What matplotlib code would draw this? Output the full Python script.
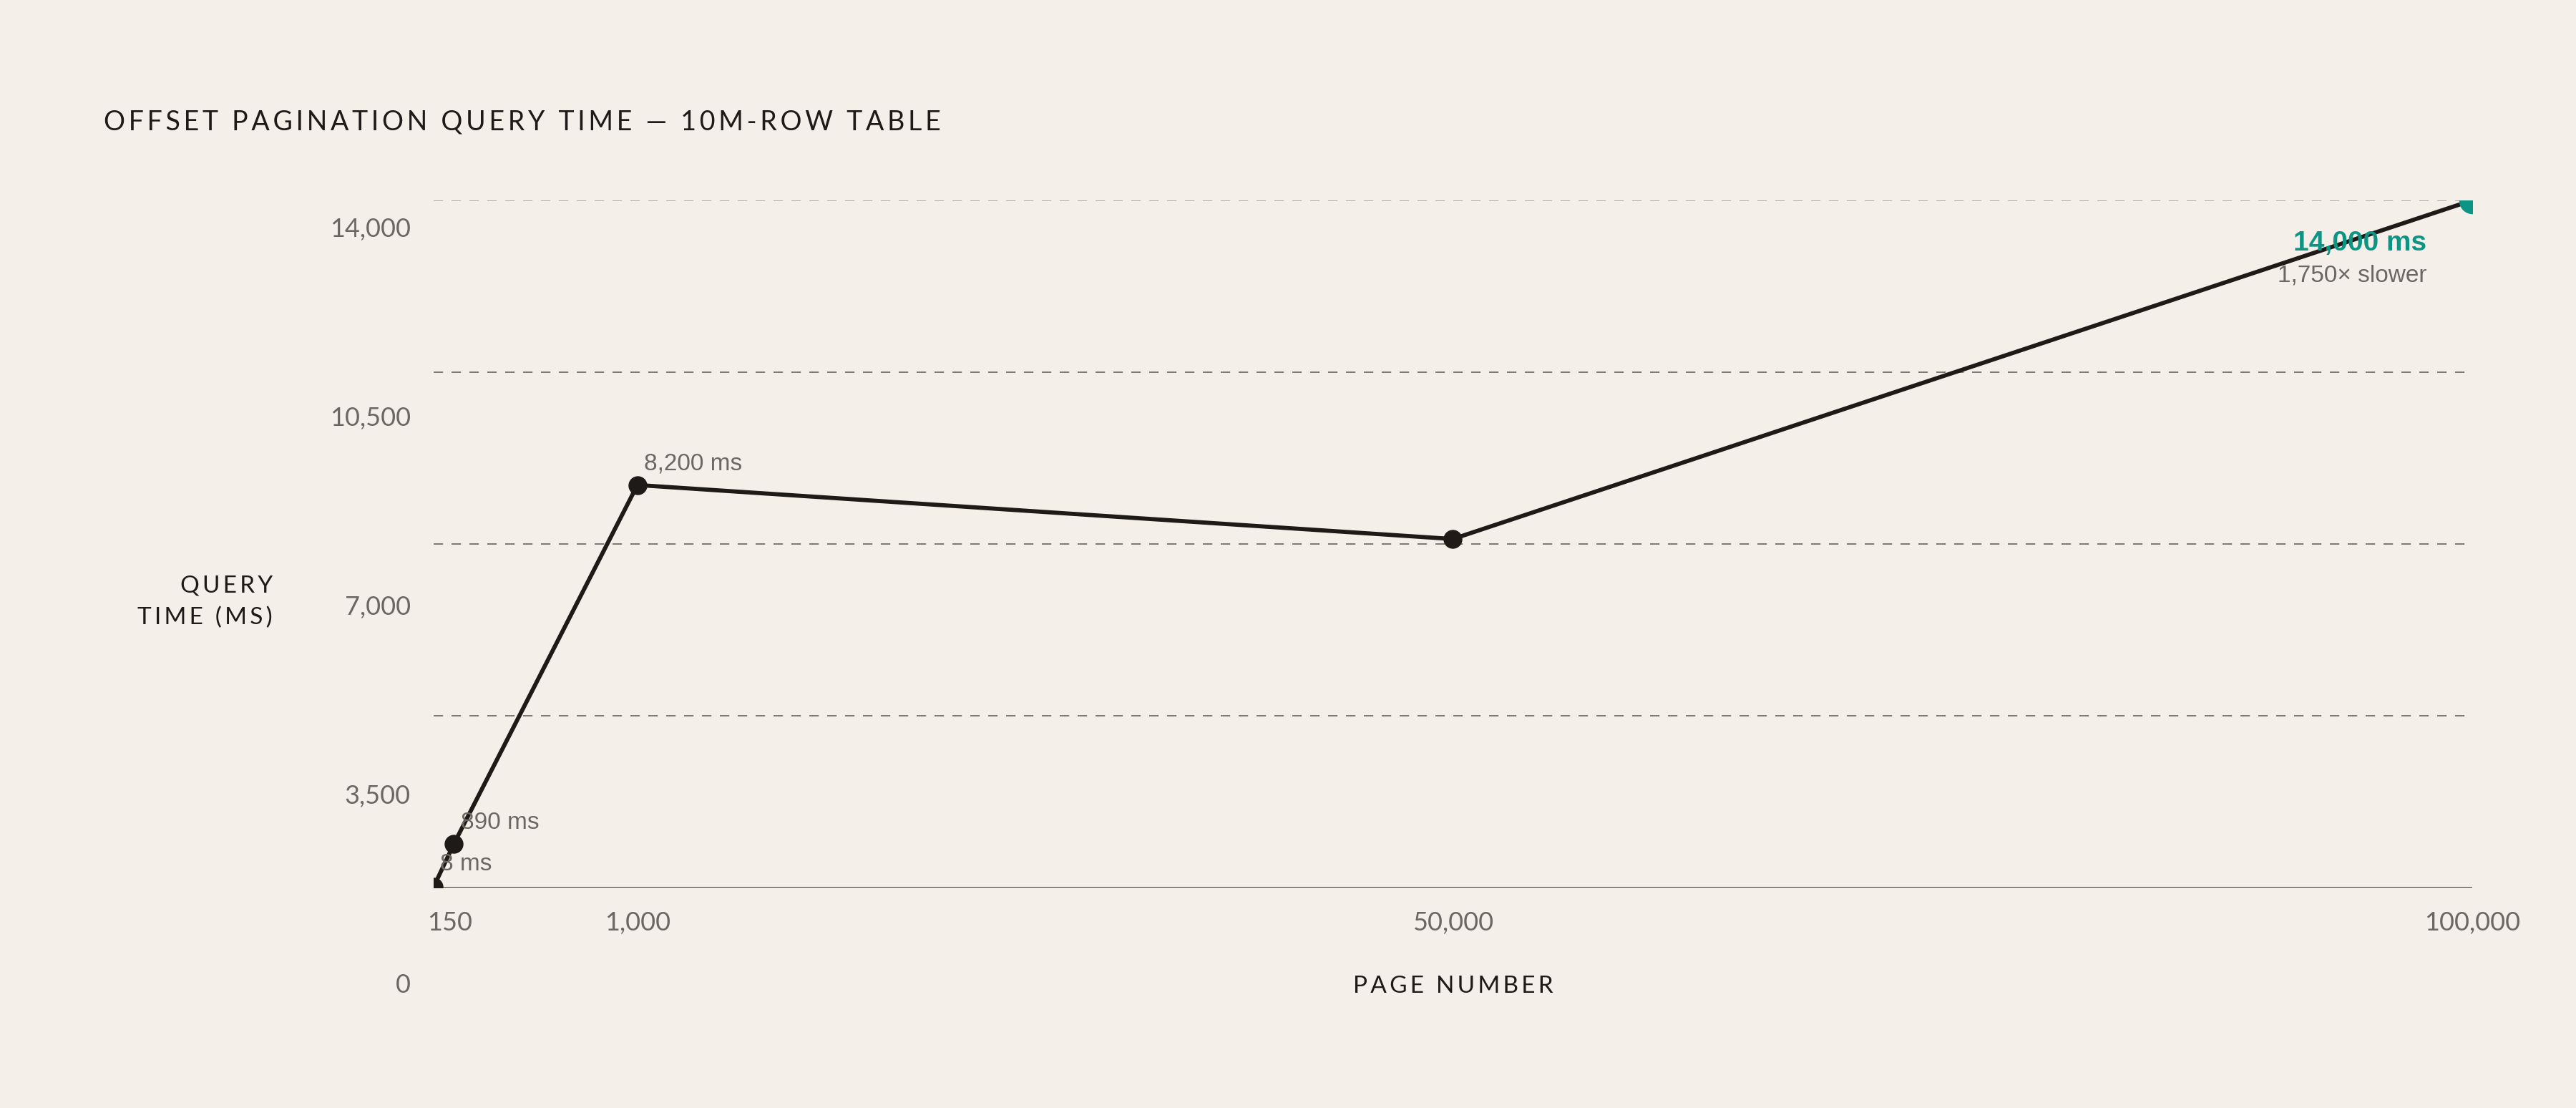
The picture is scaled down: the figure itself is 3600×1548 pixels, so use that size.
import matplotlib
matplotlib.use("Agg")
import matplotlib.pyplot as plt

# data
pages = [1, 1000, 10000, 50000, 100000]
query_ms = [8, 890, 8200, 7100, 14000]
point_labels = ["8 ms", "890 ms", "8,200 ms", None, None]

x_tick_pos = [800, 10000, 50000, 100000]
x_tick_labels = ["150", "1,000", "50,000", "100,000"]
y_ticks = [0, 3500, 7000, 10500, 14000]

BG = "#f4f0e9"
INK = "#1d1a17"
GREY = "#6b6762"
TEAL = "#0e9484"
FAM = ["Lato", "DejaVu Sans"]

plt.rcParams["lines.scale_dashes"] = False


def spaced(s, n=2):
    # crude letter spacing with hair spaces
    return ("\u200a" * n).join(s)


fig = plt.figure(figsize=(36, 15.48), dpi=100, facecolor=BG)

ax = fig.add_axes([0.1683, 0.199, 0.7914, 0.6202])
ax.set_facecolor(BG)
ax.set_xlim(pages[0], pages[-1])
ax.set_ylim(0, y_ticks[-1])

# gridlines (top one is lighter)
for v in y_ticks[1:]:
    col = "#aeaaa3" if v == y_ticks[-1] else "#7b7771"
    ax.axhline(v, color=col, lw=1.4, ls=(0, (9.5, 8.5)), zorder=1)
ax.axhline(0, color="#2f2b27", lw=1.4, zorder=2)

ax.plot(pages, query_ms, color=INK, lw=4.2, zorder=3)
ax.scatter(pages[:-1], query_ms[:-1], s=18 ** 2, color=INK, zorder=4)
ax.scatter(pages[-1:], query_ms[-1:], s=26 ** 2, color=TEAL, zorder=4)

for x, y, lab in zip(pages, query_ms, point_labels):
    if lab is None:
        continue
    dy = 23 if y < 100 else 21
    ax.annotate(lab, (x, y), xytext=(6.6, dy), textcoords="offset points",
                ha="left", va="center", fontsize=24, color=GREY,
                family="Liberation Sans")

ax.annotate(f"{query_ms[-1]:,} ms", (pages[-1], query_ms[-1]), xytext=(-46, -43),
            textcoords="offset points", ha="right", va="center", fontsize=28,
            fontweight="bold", color=TEAL, family="Liberation Sans")
ax.annotate(f"{query_ms[-1] // query_ms[0]:,}\u00d7 slower", (pages[-1], query_ms[-1]),
            xytext=(-46, -76), textcoords="offset points", ha="right", va="center",
            fontsize=24, color=GREY, family="Liberation Sans")

for side in ["top", "right", "left", "bottom"]:
    ax.spines[side].set_visible(False)
ax.set_yticks([])
ax.set_xticks(x_tick_pos)
ax.set_xticklabels(x_tick_labels)
ax.tick_params(axis="x", length=0, pad=24, labelsize=26, labelcolor=GREY)
for t in ax.get_xticklabels():
    t.set_family(FAM)

# y tick labels sit on their own, taller scale
ay = fig.add_axes([0.1683, 0.1130, 0.7914, 0.6822])
ay.patch.set_visible(False)
ay.set_ylim(0, y_ticks[-1])
ay.set_yticks(y_ticks)
ay.set_yticklabels([f"{v:,}" for v in y_ticks])
ay.set_xticks([])
for side in ["top", "right", "left", "bottom"]:
    ay.spines[side].set_visible(False)
ay.tick_params(axis="y", length=0, pad=23, labelsize=26, labelcolor=GREY)
for t in ay.get_yticklabels():
    t.set_family(FAM)

fig.text(0.0403, 0.8900, spaced("OFFSET PAGINATION QUERY TIME \u2014 10M-ROW TABLE"),
         ha="left", va="center", fontsize=27, color=INK, family=FAM)
fig.text(0.1058, 0.4570, spaced("QUERY") + "\n" + spaced("TIME (MS)"), ha="right",
         va="center", multialignment="right", fontsize=24, color=INK,
         linespacing=1.6, family=FAM)
fig.text(0.564, 0.1098, spaced("PAGE NUMBER"), ha="center", va="center",
         fontsize=24, color=INK, family=FAM)

fig.savefig("out.png", dpi=100, facecolor=BG)
